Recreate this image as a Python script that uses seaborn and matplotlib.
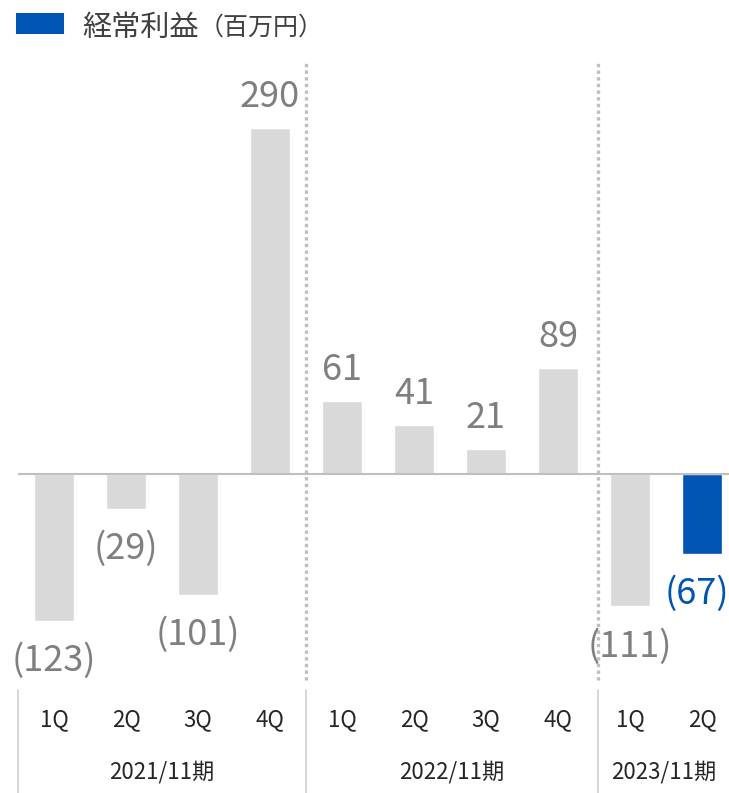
import matplotlib
matplotlib.use("Agg")
import matplotlib.pyplot as plt
from matplotlib.patches import Rectangle
import seaborn as sns
import pandas as pd

# ---- data ----
periods = ["2021/11期"] * 4 + ["2022/11期"] * 4 + ["2023/11期"] * 2
quarters = ["1Q", "2Q", "3Q", "4Q", "1Q", "2Q", "3Q", "4Q", "1Q", "2Q"]
values = [-123, -29, -101, 290, 61, 41, 21, 89, -111, -67]
period_names = ["2021/11期", "2022/11期", "2023/11期"]
legend_title = "経常利益"
legend_unit = "（百万円）"

GRAY = "#D9D9D9"
BLUE = "#0055B3"
LABEL_GRAY = "#7F7F7F"
TEXT_DARK = "#404040"
LINE = "#BFBFBF"

sns.set_theme(style="white")
plt.rcParams["font.family"] = ["Noto Sans CJK JP", "DejaVu Sans"]

keys = [f"{p} {q}" for p, q in zip(periods, quarters)]
df = pd.DataFrame({"key": keys, "value": values})
palette = {k: GRAY for k in keys}
palette[keys[-1]] = BLUE

W, H = 729, 793
fig = plt.figure(figsize=(W / 100, H / 100), dpi=100)
ax_left, ax_right, ax_top, ax_bottom = 18, 729, 60, 690
ax = fig.add_axes([ax_left / W, 1 - ax_bottom / H, (ax_right - ax_left) / W, (ax_bottom - ax_top) / H])

sns.barplot(data=df, x="key", y="value", hue="key", palette=palette, order=keys,
            hue_order=keys, width=0.555, legend=False, ax=ax, saturation=1, zorder=2)

ax.set_xlim(-0.5, 9.375)
ax.set_ylim(-181, 347)
for s in ax.spines.values():
    s.set_visible(False)
ax.set_xticks([])
ax.set_yticks([])
ax.set_xlabel("")
ax.set_ylabel("")

# zero line
ax.axhline(0, color=LINE, lw=1.5, zorder=3)

# group separators (dotted) in plot area
for xs in [3.5, 7.55]:
    ax.plot([xs, xs], [0.016, 0.997], transform=ax.get_xaxis_transform(), color=LINE,
            lw=2.4, linestyle=(0, (1, 1)), clip_on=False, zorder=1)

# category axis solid separators
for xs in [-0.5, 3.5, 7.55]:
    ax.plot([xs, xs], [0.0, -0.17], transform=ax.get_xaxis_transform(), color="#D0D0D0",
            lw=1.2, clip_on=False)

# quarter labels
for i, q in enumerate(quarters):
    ax.text(i, -0.0476, q, transform=ax.get_xaxis_transform(), ha="center", va="center",
            fontsize=16, color="#262626")

# period labels
spans = {"2021/11期": (-0.5, 3.5), "2022/11期": (3.5, 7.55), "2023/11期": (7.55, 9.375)}
for p in period_names:
    a, b = spans[p]
    ax.text((a + b) / 2, -0.1302, p, transform=ax.get_xaxis_transform(), ha="center",
            va="center", fontsize=16, color="#262626")

# value labels
n = len(values)
for i, v in enumerate(values):
    txt = f"{v}" if v >= 0 else f"({abs(v)})"
    col = BLUE if i == n - 1 else LABEL_GRAY
    off = 15 if v >= 0 else -36
    dx = -4 if i == n - 1 else 0
    ax.annotate(txt, xy=(i, v), xytext=(dx, off), textcoords="offset points",
                ha="center", va="baseline", fontsize=26, color=col, annotation_clip=False)

# legend
fig.patches.append(Rectangle((16 / W, 1 - 34 / H), 48 / W, 21 / H, transform=fig.transFigure,
                             facecolor=BLUE, edgecolor="none"))
t1 = fig.text(82 / W, 1 - 28 / H, legend_title, ha="left", va="center", fontsize=21, color=TEXT_DARK)
fig.canvas.draw()
ax.annotate(legend_unit, xy=(1, 0.08), xycoords=t1, ha="left", va="bottom", fontsize=18,
            color=TEXT_DARK, annotation_clip=False)

fig.savefig("out.png", dpi=100)
